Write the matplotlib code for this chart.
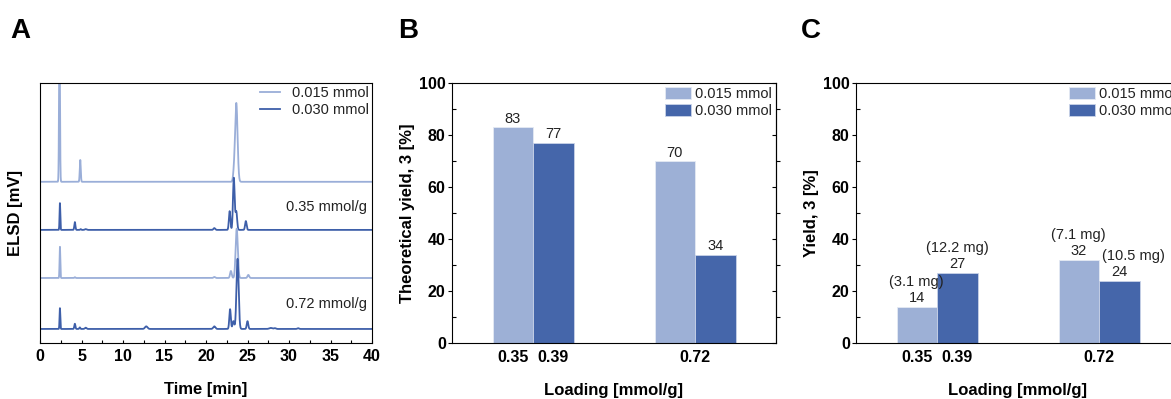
import numpy as np
import matplotlib.pyplot as plt

plt.rcParams['font.family'] = ['Liberation Sans', 'DejaVu Sans']

LIGHT = '#9db0d6'
DARK = '#4566aa'
LINE_LIGHT = '#9aaed8'
LINE_DARK = '#3e5fa9'

# ---- panel A: ELSD traces, peak tables (retention time [min], height, width) ----
time_min = np.linspace(0, 40, 8001)
baselines = [62.0, 43.5, 25.0, 5.4]
trace_colors = [LINE_LIGHT, LINE_DARK, LINE_LIGHT, LINE_DARK]
peaks_1 = [(2.35, 60.0, 0.055), (4.85, 8.4, 0.06), (23.35, 2.5, 0.1), (23.65, 30.3, 0.15)]
peaks_2 = [(2.4, 10.3, 0.045), (4.2, 3.0, 0.065), (4.9, 0.3, 0.06), (5.5, 0.3, 0.1),
           (21.0, 0.7, 0.1), (22.85, 7.2, 0.09), (23.35, 20.0, 0.1), (23.65, 7.0, 0.1),
           (24.8, 3.4, 0.09)]
peaks_3 = [(2.4, 12.0, 0.045), (4.2, 0.3, 0.06), (21.0, 0.4, 0.1), (23.0, 2.7, 0.1),
           (23.7, 19.0, 0.13), (25.1, 1.2, 0.1)]
peaks_4 = [(2.4, 8.0, 0.045), (4.2, 2.0, 0.065), (4.8, 0.6, 0.06), (5.5, 0.5, 0.1),
           (12.8, 1.0, 0.15), (21.0, 1.0, 0.13), (22.9, 7.6, 0.09), (23.3, 3.0, 0.1),
           (23.8, 27.0, 0.13), (25.0, 3.0, 0.09), (27.8, 0.4, 0.18), (28.3, 0.3, 0.12),
           (31.1, 0.3, 0.1)]
trace_peaks = [peaks_1, peaks_2, peaks_3, peaks_4]

# ---- panels B and C: bar data ----
amounts = ['0.015 mmol', '0.030 mmol']
loading_ticks = ['0.35', '0.39', '0.72']
theo_yield_015 = [83, 70]
theo_yield_030 = [77, 34]
yield_015 = [14, 32]
yield_030 = [27, 24]
mass_015 = ['(3.1 mg)', '(7.1 mg)']
mass_030 = ['(12.2 mg)', '(10.5 mg)']


def chromatogram(base, peaks):
    y = np.full_like(time_min, base)
    for rt, h, w in peaks:
        y += h * np.exp(-0.5 * ((time_min - rt) / w) ** 2)
    return y


fig = plt.figure(figsize=(11.71, 3.99), dpi=100)
W, H = 1171, 399


def px_axes(left, top, width, height):
    return fig.add_axes([left / W, (H - top - height) / H, width / W, height / H])


# panel A
axA = px_axes(40, 83, 332, 260)
for i, (base, pk) in enumerate(zip(baselines, trace_peaks)):
    lab = amounts[i] if i < 2 else None
    axA.plot(time_min, chromatogram(base, pk), color=trace_colors[i], lw=1.3, label=lab)
axA.set_xlim(0, 40)
axA.set_ylim(0, 100)
axA.set_yticks([])
axA.set_xticks(np.arange(0, 41, 5))
axA.set_xticks(np.arange(0, 41, 2.5), minor=True)
axA.tick_params(axis='x', which='both', direction='in', length=2.5, width=0.8,
                labelsize=11.5, pad=4)
for lbl in axA.get_xticklabels():
    lbl.set_fontweight('bold')
axA.text(0.985, 0.525, '0.35 mmol/g', transform=axA.transAxes, ha='right', va='center',
         fontsize=10.5, color='#222222')
axA.text(0.985, 0.15, '0.72 mmol/g', transform=axA.transAxes, ha='right', va='center',
         fontsize=10.5, color='#222222')
axA.legend(loc='upper right', bbox_to_anchor=(1.0, 1.0), frameon=False, fontsize=10.5,
           handlelength=1.4, handletextpad=0.8, labelspacing=0.2, borderaxespad=0.1,
           borderpad=0.1, labelcolor='#222222')
axA.set_xlabel('Time [min]', fontsize=12, fontweight='bold', labelpad=13)
axA.set_ylabel('ELSD [mV]', fontsize=12, fontweight='bold', labelpad=12)


def bar_panel(ax, vals_a, vals_b, ylabel):
    groups = np.array([1.0, 2.0])
    bw = 0.25
    ba = ax.bar(groups - bw / 2, vals_a, bw, color=LIGHT, edgecolor='#e4e9f3', lw=0.6,
                label=amounts[0])
    bb = ax.bar(groups + bw / 2, vals_b, bw, color=DARK, edgecolor='#c9d3e8', lw=0.6,
                label=amounts[1])
    ax.set_xlim(0.5, 2.5)
    ax.set_ylim(0, 100)
    ax.set_xticks([groups[0] - bw / 2, groups[0] + bw / 2, groups[1]])
    ax.set_xticklabels(loading_ticks)
    ax.tick_params(axis='x', length=0, labelsize=11.5, pad=5)
    ax.set_yticks(np.arange(0, 101, 20))
    ax.set_yticks(np.arange(0, 101, 10), minor=True)
    ax.tick_params(axis='y', which='major', direction='out', length=3, width=0.8,
                   labelsize=11.5, pad=1.5)
    ax.tick_params(axis='y', which='minor', direction='in', length=3, width=0.8)
    for lbl in ax.get_xticklabels() + ax.get_yticklabels():
        lbl.set_fontweight('bold')
    # right side ticks point the other way
    sec = ax.secondary_yaxis('right')
    sec.set_yticks(np.arange(0, 101, 20))
    sec.set_yticks(np.arange(0, 101, 10), minor=True)
    sec.tick_params(which='major', direction='in', length=3, width=0.8, labelright=False)
    sec.tick_params(which='minor', direction='out', length=3, width=0.8)
    sec.set_yticklabels([])
    ax.set_xlabel('Loading [mmol/g]', fontsize=12, fontweight='bold', labelpad=13)
    ax.set_ylabel(ylabel, fontsize=12, fontweight='bold', labelpad=3)
    ax.legend(loc='upper right', bbox_to_anchor=(1.0, 1.0), frameon=False, fontsize=10.5,
              handlelength=1.8, handleheight=0.95, handletextpad=0.3, labelspacing=0.2,
              borderaxespad=0.15, borderpad=0.1, labelcolor='#222222')
    return ba, bb


# panel B
axB = px_axes(452, 83, 324, 260)
ba, bb = bar_panel(axB, theo_yield_015, theo_yield_030, 'Theoretical yield, 3 [%]')
for bars in (ba, bb):
    for rect in bars:
        axB.annotate(f'{rect.get_height():.0f}',
                     (rect.get_x() + rect.get_width() / 2, rect.get_height()),
                     xytext=(0, 1), textcoords='offset points', ha='center', va='bottom',
                     fontsize=10.5, color='#222222')

# panel C (runs past the right edge of the figure)
axC = px_axes(856, 83, 324, 260)
ca, cb = bar_panel(axC, yield_015, yield_030, 'Yield, 3 [%]')
mass_shift = [[0, 0], [0, 10]]
for k, (bars, masses) in enumerate(((ca, mass_015), (cb, mass_030))):
    for j, rect in enumerate(bars):
        xc = rect.get_x() + rect.get_width() / 2
        axC.annotate(f'{rect.get_height():.0f}', (xc, rect.get_height()),
                     xytext=(0, 1), textcoords='offset points', ha='center', va='bottom',
                     fontsize=10.5, color='#222222')
        axC.annotate(masses[j], (xc, rect.get_height()),
                     xytext=(mass_shift[k][j], 13), textcoords='offset points',
                     ha='center', va='bottom', fontsize=10.5, color='#222222')

# panel letters
for x, letter in [(10, 'A'), (398, 'B'), (801, 'C')]:
    fig.text(x / W, 1 - 38 / H, letter, fontsize=20, fontweight='bold', ha='left',
             va='baseline')

fig.savefig('out.png', dpi=100)
